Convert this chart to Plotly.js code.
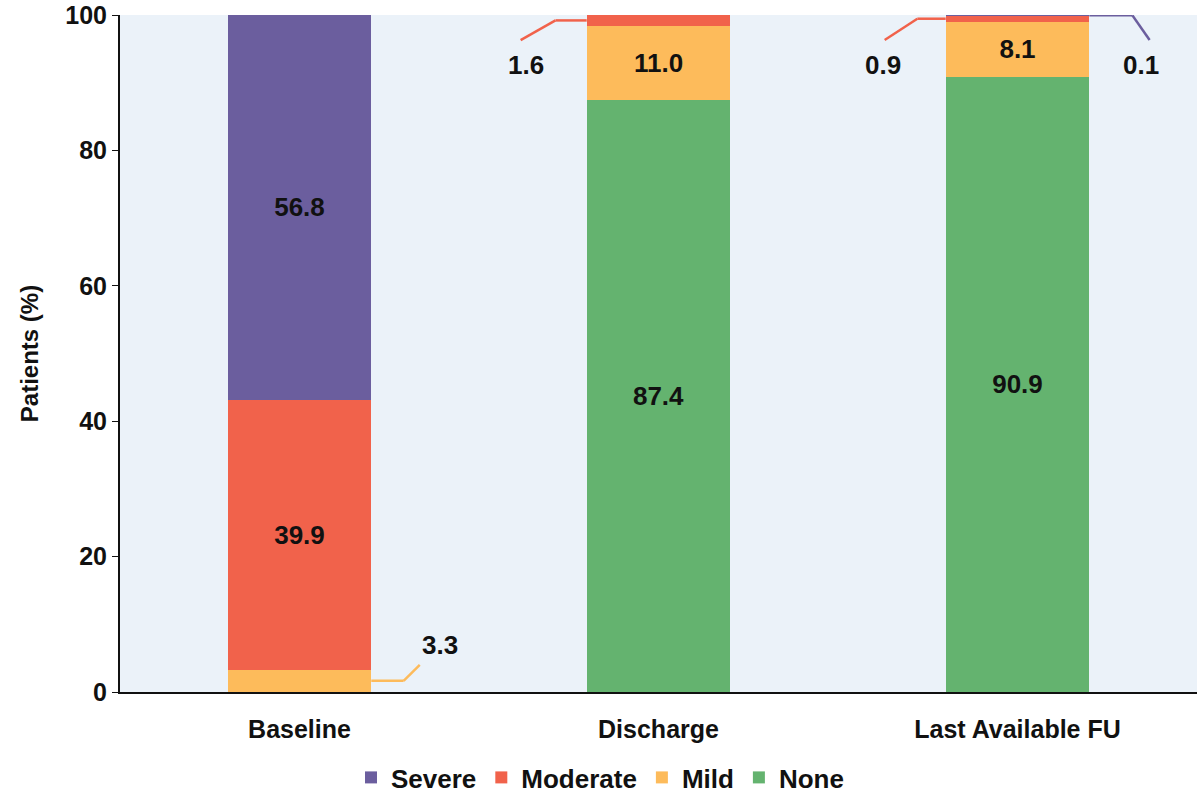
<!DOCTYPE html>
<html><head><meta charset="utf-8">
<script src="https://cdn.plot.ly/plotly-3.0.1.min.js"></script>
<style>body{margin:0}</style></head>
<body><div id="c" style="width:1200px;height:801px"></div>
<script>
const categories = ["Baseline","Discharge","Last Available FU"];
const none = [0, 87.4, 90.9];
const mild = [3.3, 11.0, 8.1];
const moderate = [39.9, 1.6, 0.9];
const severe = [56.8, 0, 0.1];
const yTicks = [0,20,40,60,80,100];

const series = [
  {name:"None", y:none, color:"#64B36F"},
  {name:"Mild", y:mild, color:"#FDBB5B"},
  {name:"Moderate", y:moderate, color:"#F1624B"},
  {name:"Severe", y:severe, color:"#6B5E9E"}
];
const font = {family:"Liberation Sans, Arial, sans-serif", color:"#111", weight:"bold"};
const traces = series.map(s => ({
  type:"bar", x:categories, y:s.y, name:s.name, width:0.4,
  marker:{color:s.color},
  text:s.y.map(v => v > 5 ? v.toFixed(1) : ""),
  textposition:"inside", insidetextanchor:"middle", textangle:0,
  textfont:{...font, size:26, color:"#111"},
  hoverinfo:"skip"
}));

function cum(i, upto){ let s=0; for(let k=0;k<upto;k++) s+=series[k].y[i]; return s; }
const callouts = [
  {i:0, val:mild[0], y0:cum(0,1)+mild[0]/2, pts:[[0.2,null],[0.29,null],[0.335,4]], lab:[0.39,7], color:"#FDBB5B"},
  {i:1, val:moderate[1], y0:cum(1,2)+moderate[1]/2, pts:[[-0.2,null],[-0.287,null],[-0.384,96.3]], lab:[-0.37,92.6], color:"#F1624B"},
  {i:2, val:moderate[2], y0:cum(2,2)+moderate[2]/2, pts:[[-0.2,null],[-0.279,null],[-0.37,96.3]], lab:[-0.375,92.6], color:"#F1624B"},
  {i:2, val:severe[2], y0:cum(2,3)+severe[2]/2, pts:[[0.2,null],[0.32,null],[0.368,96.3]], lab:[0.345,92.6], color:"#6B5E9E"}
];
const shapes = [], annotations = [];
callouts.forEach(c => {
  const p = c.pts.map(([dx,y]) => [c.i+dx, y===null?c.y0:y]);
  for(let k=0;k<p.length-1;k++) shapes.push({type:"line", xref:"x", yref:"y",
    x0:p[k][0], y0:p[k][1], x1:p[k+1][0], y1:p[k+1][1], line:{color:c.color, width:2.5}});
  annotations.push({xref:"x", yref:"y", x:c.i+c.lab[0], y:c.lab[1], text:c.val.toFixed(1),
    showarrow:false, font:{...font, size:26}});
});

Plotly.newPlot("c", traces, {
  barmode:"stack", width:1200, height:801,
  margin:{l:120, r:3, t:15, b:109, autoexpand:false},
  plot_bgcolor:"#EBF2F9", paper_bgcolor:"#fff",
  font:font, showlegend:true,
  legend:{orientation:"h", x:0.5, xanchor:"center", xref:"container", yref:"container", y:0.0, yanchor:"bottom",
    traceorder:"reversed", font:{...font, size:26}, itemwidth:30},
  xaxis:{type:"category", range:[-0.5,2.5], showline:true, linecolor:"#111", linewidth:2,
    ticks:"", ticklabelstandoff:14, tickfont:{...font, size:25}, showgrid:false},
  yaxis:{range:[0,100], tickvals:yTicks, showline:true, linecolor:"#111", linewidth:2,
    ticks:"outside", ticklen:6, tickcolor:"#111", showgrid:false, zeroline:false,
    tickfont:{...font, size:25},
    title:{text:"Patients (%)", font:{...font, size:24}, standoff:20}},
  shapes:shapes, annotations:annotations
}, {displayModeBar:false});
</script></body></html>
